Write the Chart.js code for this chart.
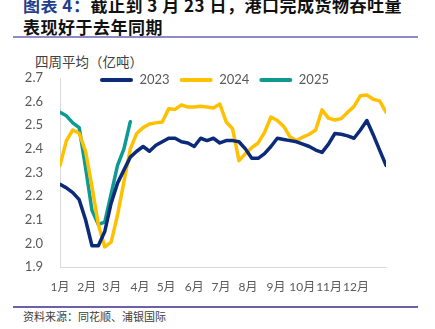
<!DOCTYPE html>
<html lang="zh-CN">
<head>
<meta charset="utf-8">
<title>港口完成货物吞吐量</title>
<script src="https://cdn.jsdelivr.net/npm/chart.js@4.4.1/dist/chart.umd.min.js"></script>
<style>
body{margin:0;width:435px;height:329px;overflow:hidden;background:#fff;position:relative;font-family:"Noto Sans CJK SC",sans-serif}
#ttl{position:absolute;left:23px;top:-6px;font-size:17px;line-height:22px;font-weight:700;color:#111;white-space:nowrap;letter-spacing:0.5px}
#ttl span{color:#233e8b}
.rule{position:absolute;left:13px;width:405px;height:1.5px}
#unit{position:absolute;left:35px;top:52px;font-size:13.5px;line-height:18px;color:#404040}
#src{position:absolute;left:23px;top:309px;font-size:11px;line-height:15px;color:#404040}
#c{position:absolute;left:0;top:45px}
</style>
</head>
<body>
<div id="ttl"><span>图表 4：</span>截止到 3 月 23 日，港口完成货物吞吐量<br>表现好于去年同期</div>
<div class="rule" style="top:36px;background:#8f89c6"></div>
<div id="unit">四周平均（亿吨）</div>
<canvas id="c" width="435" height="255"></canvas>
<div class="rule" style="top:306px;background:#6c61a8"></div>
<div id="src">资料来源：同花顺、浦银国际</div>
<script>
// semanas del año (índice) y etiquetas de mes
const monthLabels=['1月','2月','3月','4月','5月','6月','7月','8月','9月','10月','11月','12月'];
const monthTicks=[0,4.2,8.1,12.5,16.6,21,25.2,29.4,33.8,37.9,42.1,46.3];

const y2023=[2.25,2.235,2.215,2.185,2.10,1.99,1.99,2.05,2.17,2.255,2.31,2.365,2.39,2.41,2.39,2.415,
  2.43,2.445,2.445,2.43,2.425,2.41,2.445,2.435,2.445,2.425,2.435,2.435,2.43,2.40,2.36,2.36,2.38,2.41,
  2.445,2.44,2.435,2.43,2.42,2.41,2.395,2.385,2.42,2.465,2.462,2.455,2.445,2.48,2.52,2.46,2.395,2.33];
const y2024=[2.33,2.435,2.48,2.466,2.39,2.24,2.08,1.985,2.005,2.12,2.26,2.40,2.465,2.49,2.505,2.51,
  2.514,2.57,2.567,2.586,2.577,2.577,2.58,2.577,2.573,2.59,2.514,2.485,2.35,2.38,2.405,2.425,2.47,2.535,
  2.52,2.495,2.45,2.435,2.45,2.462,2.48,2.565,2.53,2.522,2.528,2.555,2.58,2.625,2.628,2.61,2.603,2.556];
const y2025=[2.555,2.54,2.51,2.49,2.32,2.14,2.08,2.09,2.21,2.33,2.40,2.515];

const yTicks=[1.9,2.0,2.1,2.2,2.3,2.4,2.5,2.6,2.7];

function serie(arr){
  return arr.map((v,i)=>({x:i,y:v}));
}

// la leyenda va dentro del área del gráfico, a la altura de 2.7
const moveLegend={
  id:'moveLegend',
  afterLayout(chart){
    const lg=chart.legend;
    const pad=lg.options.labels.padding;
    lg.left=100-pad;
    lg.top=35-pad-6.5;
    lg.right=chart.width;
    lg.bottom=lg.top+40;
  }
};

const gris='#595959';
new Chart(document.getElementById('c'),{
  type:'line',
  data:{
    datasets:[
      {label:'2023',data:serie(y2023),borderColor:'#0b2a7a',backgroundColor:'#0b2a7a'},
      {label:'2024',data:serie(y2024),borderColor:'#ffc000',backgroundColor:'#ffc000'},
      {label:'2025',data:serie(y2025),borderColor:'#0e9a93',backgroundColor:'#0e9a93'}
    ]
  },
  options:{
    responsive:false,
    animation:false,
    layout:{padding:{left:0,right:49,top:0,bottom:0}},
    elements:{
      line:{borderWidth:3.5,tension:0,borderCapStyle:'round',borderJoinStyle:'round'},
      point:{radius:0}
    },
    plugins:{
      tooltip:{enabled:false},
      legend:{
        position:'top',
        align:'start',
        labels:{
          boxWidth:33,boxHeight:4,padding:10,color:gris,
          font:{family:'Lato',size:13},
          useBorderRadius:true,borderRadius:2,
          generateLabels:ch=>Chart.defaults.plugins.legend.labels.generateLabels(ch).map(l=>({...l,lineWidth:0}))
        }
      }
    },
    scales:{
      x:{
        type:'linear',min:0,max:51,
        grid:{display:true,drawOnChartArea:false,drawTicks:false},
        border:{color:'#d9d9d9'},
        afterBuildTicks:s=>{s.ticks=monthTicks.map(v=>({value:v}));},
        afterFit:s=>{s.height=33;},
        ticks:{
          autoSkip:false,maxRotation:0,padding:13,color:gris,
          font:{family:"Lato,'Noto Sans CJK SC'",size:12},
          callback:(v,i)=>monthLabels[i]
        }
      },
      y:{
        min:1.9,max:2.7,
        grid:{display:true,drawOnChartArea:false,drawTicks:false},
        border:{color:'#d9d9d9'},
        afterBuildTicks:s=>{s.ticks=yTicks.map(v=>({value:v}));},
        afterFit:s=>{s.width=60;},
        ticks:{
          padding:17,color:gris,
          font:{family:'Lato',size:13},
          callback:v=>v.toFixed(1)
        }
      }
    }
  },
  plugins:[moveLegend]
});
</script>
</body>
</html>
